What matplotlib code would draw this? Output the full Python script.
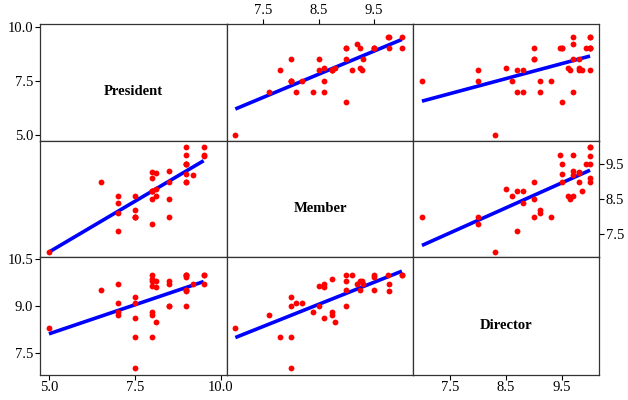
"""Scatterplot matrix of President / Member / Director ratings with fitted lines."""
import matplotlib
matplotlib.use("Agg")
import matplotlib.pyplot as plt
import numpy as np

names = ["President", "Member", "Director"]

president = [5.0, 6.5, 7.0, 7.0, 7.0, 7.0, 7.5, 7.5, 7.5, 7.5, 7.5, 8.0, 8.0,
             8.0, 8.0, 8.0, 8.0, 8.0, 8.1, 8.1, 8.1, 8.5, 8.5, 8.5, 8.5, 9.0,
             9.0, 9.0, 9.0, 9.0, 9.0, 9.0, 9.0, 9.2, 9.5, 9.5, 9.5]
member = [7.0, 9.0, 7.6, 8.1, 8.4, 8.6, 8.0, 8.0, 8.0, 8.2, 8.6, 7.8, 8.5,
          8.75, 8.75, 8.75, 9.1, 9.28, 8.6, 8.8, 9.25, 8.0, 8.5, 9.0, 9.3, 9.0,
          9.24, 9.5, 9.76, 10.0, 9.0, 9.5, 9.5, 9.2, 9.76, 10.0, 9.75]
director = [8.3, 9.5, 8.7, 9.1, 8.8, 9.7, 9.3, 8.0, 7.0, 9.1, 8.6, 8.0, 9.65,
            8.8, 8.7, 9.85, 10.0, 9.8, 9.6, 8.5, 9.8, 9.0, 9.0, 9.8, 9.7, 9.0,
            9.5, 9.93, 9.47, 10.0, 10.0, 10.0, 9.5, 9.7, 9.7, 10.0, 10.0]

data = [np.array(president), np.array(member), np.array(director)]

# axis ranges as used on x (columns) and y (rows)
xlims = [(4.74, 10.18), (6.85, 10.20), (6.84, 10.16)]
ylims = [(4.73, 10.12), (6.85, 10.18), (6.80, 10.57)]
ticks_pres = [5.0, 7.5, 10.0]
ticks_mem = [7.5, 8.5, 9.5]
ticks_dir_x = [7.5, 8.5, 9.5]
ticks_dir_y = [7.5, 9.0, 10.5]

W, H = 628, 400
col_edges = [40, 227, 413, 599]
row_edges = [24, 140.7, 257, 374.5]

plt.rcParams["font.family"] = ["Liberation Serif", "DejaVu Serif"]
plt.rcParams["font.size"] = 10.5

fig = plt.figure(figsize=(W / 100, H / 100), dpi=100)
axes = {}
for i in range(3):
    for j in range(3):
        x0, x1 = col_edges[j], col_edges[j + 1]
        y0, y1 = row_edges[i], row_edges[i + 1]
        ax = fig.add_axes([x0 / W, 1 - y1 / H, (x1 - x0) / W, (y1 - y0) / H])
        ax.set_xlim(*xlims[j])
        ax.set_ylim(*ylims[i])
        for s in ax.spines.values():
            s.set_linewidth(0.9)
            s.set_color("#333333")
        ax.tick_params(which="both", bottom=False, top=False, left=False, right=False,
                       labelbottom=False, labeltop=False, labelleft=False, labelright=False,
                       length=3.5, width=0.8, pad=1.5, labelsize=10.5)
        ax.set_xticks([])
        ax.set_yticks([])
        if i == j:
            ax.text(0.5, 0.42, names[i], transform=ax.transAxes, ha="center", va="center",
                    fontsize=10.5, fontweight="bold")
        else:
            x, y = data[j], data[i]
            ax.plot(x, y, "o", color="red", ms=4.2, mec="none", zorder=3)
            b, a = np.polyfit(x, y, 1)
            xs = np.array([x.min(), x.max()])
            ax.plot(xs, a + b * xs, color="blue", lw=2.6, solid_capstyle="butt", zorder=2)
        axes[(i, j)] = ax

fmt = "{:.1f}"

ax = axes[(0, 0)]
ax.set_yticks(ticks_pres, [fmt.format(t) for t in ticks_pres])
ax.tick_params(left=True, labelleft=True)

ax = axes[(0, 1)]
ax.set_xticks(ticks_mem, [fmt.format(t) for t in ticks_mem])
ax.tick_params(top=True, labeltop=True)

ax = axes[(1, 2)]
ax.set_yticks(ticks_mem, [fmt.format(t) for t in ticks_mem])
ax.tick_params(right=True, labelright=True)

ax = axes[(2, 0)]
ax.set_xticks(ticks_pres, [fmt.format(t) for t in ticks_pres])
ax.set_yticks(ticks_dir_y, [fmt.format(t) for t in ticks_dir_y])
ax.tick_params(bottom=True, labelbottom=True, left=True, labelleft=True)

ax = axes[(2, 2)]
ax.set_xticks(ticks_dir_x, [fmt.format(t) for t in ticks_dir_x])
ax.tick_params(bottom=True, labelbottom=True)

fig.savefig("out.png", dpi=100)
